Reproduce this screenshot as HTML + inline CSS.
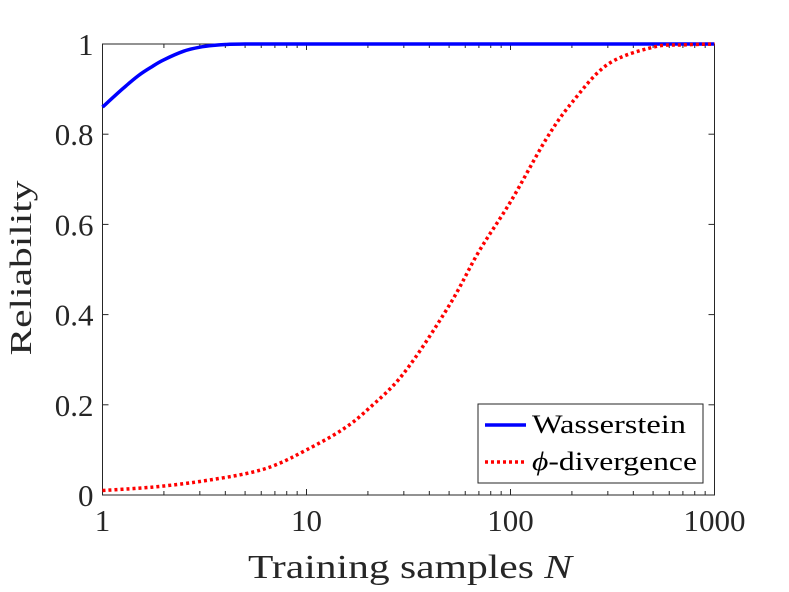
<!DOCTYPE html>
<html><head><meta charset="utf-8"><style>
body{margin:0;background:#fff;}
svg{display:block;font-family:"Liberation Serif",serif;}
</style></head><body>
<svg id="chart" width="789" height="592" viewBox="0 0 789 592">
<rect x="0" y="0" width="789" height="592" fill="#fff"/>
<rect x="102.5" y="44" width="612" height="451" fill="#fff" stroke="#262626" stroke-width="1"/>
<g id="ticks"></g>
<g id="series"></g>
<text x="31" y="268" font-size="31" fill="#262626" text-anchor="middle" textLength="175" lengthAdjust="spacingAndGlyphs" transform="rotate(-90 31 268)">Reliability</text>
<text x="410" y="578" font-size="34" fill="#262626" text-anchor="middle" textLength="324" lengthAdjust="spacingAndGlyphs">Training samples <tspan font-style="italic">N</tspan></text>
<g>
<rect x="478" y="404" width="225" height="79" fill="#fff" stroke="#262626" stroke-width="1"/>
<line x1="485" y1="425" x2="526" y2="425" stroke="#0000ff" stroke-width="3.5"/>
<text x="532" y="433" font-size="26" fill="#000" textLength="154" lengthAdjust="spacingAndGlyphs">Wasserstein</text>
<line x1="485" y1="462" x2="526" y2="462" stroke="#ff0000" stroke-width="3.5" stroke-dasharray="3 3"/>
<text x="532" y="470" font-size="26" fill="#000" textLength="165" lengthAdjust="spacingAndGlyphs"><tspan font-style="italic">ϕ</tspan>-divergence</text>
</g>
</svg>
<script>
const xTicks=[1,10,100,1000];
const xTickLabels=["1","10","100","1000"];
const yTicks=[0,0.2,0.4,0.6,0.8,1];
const yTickLabels=["0","0.2","0.4","0.6","0.8","1"];
const wassN=[1,1.25,1.5,1.75,2,2.5,3,3.5,4,5,10,100,1000];
const wassR=[0.86,0.9,0.93,0.95,0.965,0.984,0.993,0.997,0.999,1,1,1,1];
const phiN=[1,1.5,2,3,5,7,10,15,20,30,50,70,100,150,200,300,500,700,1000];
const phiR=[0.01,0.015,0.02,0.03,0.047,0.066,0.1,0.145,0.19,0.27,0.42,0.54,0.65,0.79,0.87,0.955,0.993,0.998,1];
const X0=102.5,X1=714.5,Y0=495,Y1=44;
const xs=n=>X0+(Math.log10(n)/3)*(X1-X0);
const ys=v=>Y0-v*(Y0-Y1);
const NS="http://www.w3.org/2000/svg";
const tg=document.getElementById('ticks'),sg=document.getElementById('series');
function mk(tag,attrs,parent){const e=document.createElementNS(NS,tag);for(const k in attrs)e.setAttribute(k,attrs[k]);parent.appendChild(e);return e;}
for(let d=1;d<1000;d*=10){for(let m=1;m<10;m++){const n=d*m;const x=xs(n);const len=m===1?6:4;
const a=mk('line',{x1:x,y1:Y0,x2:x,y2:Y0-len,stroke:'#262626','stroke-width':1},tg);


const b=mk('line',{x1:x,y1:Y1,x2:x,y2:Y1+len,stroke:'#262626','stroke-width':1},tg);

}}
xTicks.forEach((n,i)=>{const t=mk('text',{x:xs(n),y:531,'font-size':31,fill:'#262626','text-anchor':'middle'},tg);t.textContent=xTickLabels[i];

});
yTicks.forEach((v,i)=>{const y=ys(v);
const a=mk('line',{x1:X0,y1:y,x2:X0+6,y2:y,stroke:'#262626','stroke-width':1},tg);


const b=mk('line',{x1:X1,y1:y,x2:X1-6,y2:y,stroke:'#262626','stroke-width':1},tg);


const t=mk('text',{x:X0-9,y:y+11,'font-size':31,fill:'#262626','text-anchor':'end'},tg);t.textContent=yTickLabels[i];

});
function path(N,R){const P=N.map((n,i)=>[xs(n),ys(R[i])]);let d='M'+P[0][0].toFixed(1)+','+P[0][1].toFixed(1);
for(let i=0;i<P.length-1;i++){const p0=P[Math.max(0,i-1)],p1=P[i],p2=P[i+1],p3=P[Math.min(P.length-1,i+2)];
const c1=[p1[0]+(p2[0]-p0[0])/6,p1[1]+(p2[1]-p0[1])/6],c2=[p2[0]-(p3[0]-p1[0])/6,p2[1]-(p3[1]-p1[1])/6];
c1[1]=Math.max(Y1,c1[1]);c2[1]=Math.max(Y1,c2[1]);
d+=' C'+c1.map(v=>v.toFixed(1)).join(',')+' '+c2.map(v=>v.toFixed(1)).join(',')+' '+p2.map(v=>v.toFixed(1)).join(',');}
return d;}
const w=mk('path',{d:path(wassN,wassR),fill:'none',stroke:'#0000ff','stroke-width':3.5,'stroke-linejoin':'round'},sg);


const p=mk('path',{d:path(phiN,phiR),fill:'none',stroke:'#ff0000','stroke-width':3.5,'stroke-dasharray':'3 3'},sg);


</script>
</body></html>
